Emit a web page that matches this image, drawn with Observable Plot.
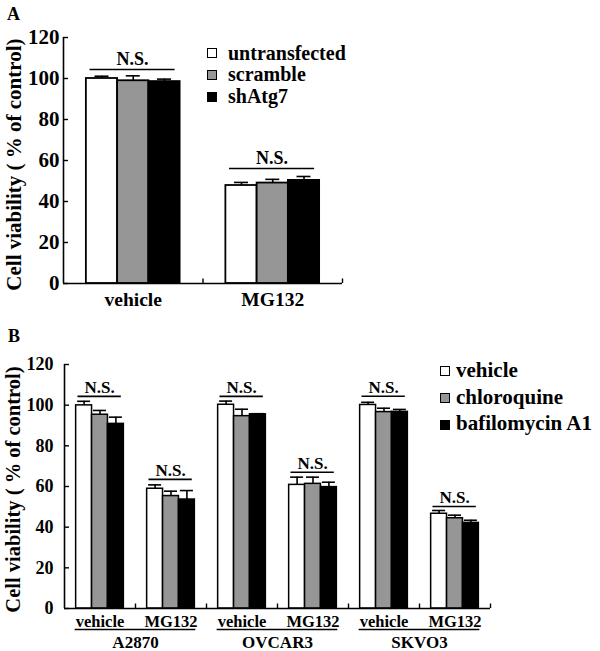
<!DOCTYPE html>
<html><head><meta charset="utf-8">
<script src="https://cdn.jsdelivr.net/npm/d3@7"></script>
<script src="https://cdn.jsdelivr.net/npm/@observablehq/plot@0.6"></script>
<style>
body{margin:0;background:#fff;}
#wrap{position:relative;width:600px;height:651px;overflow:hidden;font-family:"Liberation Serif","Times New Roman",serif;font-weight:bold;color:#000;background:#fff;}
.abs{position:absolute;white-space:nowrap;line-height:1;}
.panel{position:absolute;left:0;}
.sw{position:absolute;width:8px;height:8px;border:1px solid #000;}
</style></head><body><div id="wrap"></div>
<script>
// ---------- DATA ----------
const yTicks = [0, 20, 40, 60, 80, 100, 120];
const barColors = ["#ffffff", "#969696", "#000000"];

// Panel A
const groupsA = ["vehicle", "MG132"];
const seriesA = ["untransfected", "scramble", "shAtg7"];
const untransfectedA = [100.0, 47.8];
const scrambleA = [98.9, 49.0];
const shAtg7A = [98.5, 50.3];
const untransfectedErrA = [1.1, 1.5];
const scrambleErrA = [2.4, 1.8];
const shAtg7ErrA = [1.2, 1.9];
const nsA = [104.4, 56.1];

// Panel B
const cellLinesB = ["A2870", "OVCAR3", "SKVO3"];
const treatmentsB = ["vehicle", "MG132"];
const seriesB = ["vehicle", "chloroquine", "bafilomycin A1"];
const vehicleB = [99.9, 58.9, 100.2, 60.8, 100.1, 46.6];
const chloroquineB = [95.3, 55.3, 94.6, 61.3, 96.6, 44.4];
const bafilomycinB = [90.8, 53.6, 95.5, 59.7, 96.7, 42.1];
const vehicleErrB = [2.0, 1.9, 1.8, 3.8, 1.3, 1.6];
const chloroquineErrB = [2.1, 2.4, 3.4, 3.3, 1.9, 1.5];
const bafilomycinErrB = [3.3, 4.4, 0.3, 2.4, 1.2, 1.3];
const nsB = [104.3, 63.5, 104.3, 67.0, 104.4, 50.2];

const yTitle = "Cell viability ( % of control)";

// ---------- BUILD ----------
function buildRows(seriesNames, valueArrays, errArrays) {
  const rows = [];
  seriesNames.forEach((s, si) => {
    valueArrays[si].forEach((v, g) => rows.push({g, s: si, series: s, value: v, err: errArrays[si][g]}));
  });
  return rows;
}

const FONT = "'Liberation Serif','Times New Roman',serif";

function panel(cfg) {
  const {width, height, ml, mr, mt, mb, nGroups, rows, series, ns, groupLabels} = cfg;
  const pxX = (width - ml - mr) / nGroups;
  const pxY = (height - mt - mb) / 120;
  const bw = 0.224;
  const center = d => d.g + (d.s - 1) * bw;
  const boundaries = d3.range(nGroups).map(i => i + 0.5);
  const nsRows = ns.map((v, g) => ({g, v}));
  const marks = [
    Plot.rectY(rows, {x1: d => center(d) - bw / 2, x2: d => center(d) + bw / 2, y1: 0, y2: "value",
      fill: "series", stroke: "#000", strokeWidth: cfg.barStroke}),
    Plot.ruleX(rows, {x: center, y1: "value", y2: d => d.value + d.err, stroke: "#000", strokeWidth: 1.6}),
    Plot.ruleY(rows, {y: d => d.value + d.err, x1: d => center(d) - cfg.cap / pxX, x2: d => center(d) + cfg.cap / pxX, stroke: "#000", strokeWidth: 1.6}),
    Plot.ruleX([-0.5], {y1: 0, y2: 120, stroke: "#000", strokeWidth: 1.6}),
    Plot.ruleY([0], {x1: -0.5, x2: nGroups - 0.5, stroke: "#000", strokeWidth: 1.6}),
    Plot.ruleY(yTicks, {y: d => d, x1: -0.5, x2: -0.5 + 5 / pxX, stroke: "#000", strokeWidth: 1.4}),
    Plot.ruleX(boundaries, {x: d => d, y1: 0, y2: 4.5 / pxY, stroke: "#000", strokeWidth: 1.4}),
    Plot.text(yTicks, {x: -0.5, y: d => d, text: d => String(d), textAnchor: "end", dx: -cfg.tickPad,
      fontSize: cfg.tickFont, fontWeight: "bold", fontFamily: FONT, fill: "#000"}),
    Plot.text(groupLabels, {x: (d, i) => i, y: 0, text: d => d, dy: cfg.groupDy,
      fontSize: cfg.groupFont, fontWeight: "bold", fontFamily: FONT, fill: "#000"}),
    Plot.ruleY(nsRows, {y: "v", x1: d => d.g - 0.31, x2: d => d.g + 0.30, stroke: "#000", strokeWidth: 1.6}),
    Plot.text(nsRows, {x: d => d.g - 0.005, y: "v", text: () => "N.S.", dy: cfg.nsDy,
      fontSize: cfg.nsFont, fontWeight: "bold", fontFamily: FONT, fill: "#000"}),
    Plot.text([yTitle], {x: -0.5, y: cfg.titleY, text: d => d, rotate: -90, dx: cfg.titleDx,
      fontSize: cfg.titleFont, fontWeight: "bold", fontFamily: FONT, fill: "#000"}),
    ...(cfg.extraMarks || [])
  ];
  return Plot.plot({
    width, height, marginLeft: ml, marginRight: mr, marginTop: mt, marginBottom: mb,
    x: {type: "linear", domain: [-0.5, nGroups - 0.5], axis: null},
    y: {domain: [0, 120], axis: null},
    color: {type: "ordinal", domain: series, range: barColors},
    style: {fontFamily: FONT, fontWeight: "bold", color: "#000", background: "transparent", overflow: "visible"},
    marks
  });
}

const wrap = document.getElementById("wrap");

// Panel A
const rowsA = buildRows(seriesA, [untransfectedA, scrambleA, shAtg7A], [untransfectedErrA, scrambleErrA, shAtg7ErrA]);
const plotA = panel({
  width: 600, height: 310, ml: 63, mr: 258, mt: 37, mb: 27, nGroups: groupsA.length,
  rows: rowsA, series: seriesA, ns: nsA, groupLabels: groupsA,
  barStroke: 1.8, cap: 7, tickPad: 4, tickFont: 21, groupFont: 19.5, groupDy: 15.8,
  nsFont: 18, nsDy: -9.8, titleFont: 21, titleDx: -49, titleY: 58
});
plotA.classList.add("panel"); plotA.style.top = "0px";
wrap.appendChild(plotA);

// Panel B
const rowsB = buildRows(seriesB, [vehicleB, chloroquineB, bafilomycinB], [vehicleErrB, chloroquineErrB, bafilomycinErrB]);
const subLabelsB = cellLinesB.flatMap(() => treatmentsB);
const pairRows = cellLinesB.map((c, i) => ({c, x: i * 2 + 0.5}));
const plotB = panel({
  width: 600, height: 341, ml: 64, mr: 110, mt: 54, mb: 43, nGroups: subLabelsB.length,
  rows: rowsB, series: seriesB, ns: nsB, groupLabels: subLabelsB,
  barStroke: 1.5, cap: 6.5, tickPad: 11, tickFont: 18, groupFont: 16.5, groupDy: 13.4,
  nsFont: 17, nsDy: -8.7, titleFont: 20.5, titleDx: -51, titleY: 58.5,
  extraMarks: [
    Plot.ruleY(pairRows, {y: 0, x1: d => d.x - 0.85, x2: d => d.x + 0.85, dy: 21, stroke: "#000", strokeWidth: 1.4}),
    Plot.text(pairRows, {x: "x", y: 0, text: "c", dy: 34, fontSize: 17, fontWeight: "bold", fontFamily: FONT, fill: "#000"})
  ]
});
plotB.classList.add("panel"); plotB.style.top = "310px";
wrap.appendChild(plotB);

// Panel letters
function addText(txt, left, top, size) {
  const d = document.createElement("div");
  d.className = "abs"; d.textContent = txt;
  d.style.left = left + "px"; d.style.top = top + "px"; d.style.fontSize = size + "px";
  wrap.appendChild(d);
}
addText("A", 7, 5, 18);
addText("B", 8, 327, 18);

// Legends
function legend(names, swLeft, textLeft, swTops, textTops, size) {
  names.forEach((n, i) => {
    const s = document.createElement("div");
    s.className = "sw"; s.style.left = swLeft + "px"; s.style.top = swTops[i] + "px";
    s.style.background = barColors[i];
    wrap.appendChild(s);
    addText(n, textLeft, textTops[i], size);
  });
}
legend(seriesA, 207, 228, [48, 70, 92], [43, 64, 86], 20);
legend(seriesB, 440, 456, [366, 393, 420], [360, 387, 413], 21);
</script></body></html>
